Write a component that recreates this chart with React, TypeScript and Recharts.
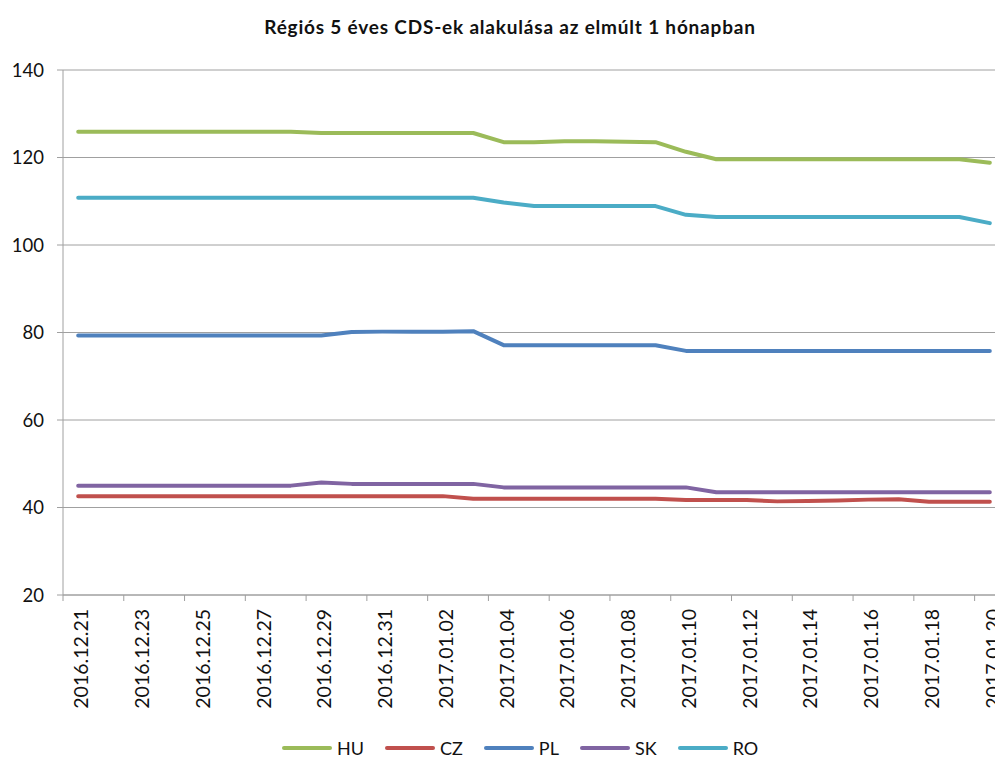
import { LineChart, Line, XAxis, YAxis, CartesianGrid } from 'recharts';

const dates = [
  '2016.12.21', '2016.12.22', '2016.12.23', '2016.12.24', '2016.12.25', '2016.12.26',
  '2016.12.27', '2016.12.28', '2016.12.29', '2016.12.30', '2016.12.31', '2017.01.01',
  '2017.01.02', '2017.01.03', '2017.01.04', '2017.01.05', '2017.01.06', '2017.01.07',
  '2017.01.08', '2017.01.09', '2017.01.10', '2017.01.11', '2017.01.12', '2017.01.13',
  '2017.01.14', '2017.01.15', '2017.01.16', '2017.01.17', '2017.01.18', '2017.01.19',
  '2017.01.20',
];

const hu = [
  125.9, 125.9, 125.9, 125.9, 125.9, 125.9, 125.9, 125.9, 125.6, 125.6, 125.6, 125.6,
  125.6, 125.6, 123.5, 123.5, 123.7, 123.7, 123.6, 123.5, 121.3, 119.6, 119.6, 119.6,
  119.6, 119.6, 119.6, 119.6, 119.6, 119.6, 118.8,
];
const cz = [
  42.6, 42.6, 42.6, 42.6, 42.6, 42.6, 42.6, 42.6, 42.6, 42.6, 42.6, 42.6,
  42.6, 42.0, 42.0, 42.0, 42.0, 42.0, 42.0, 42.0, 41.7, 41.7, 41.7, 41.4,
  41.5, 41.6, 41.8, 41.9, 41.3, 41.3, 41.3,
];
const pl = [
  79.3, 79.3, 79.3, 79.3, 79.3, 79.3, 79.3, 79.3, 79.3, 80.1, 80.2, 80.2,
  80.2, 80.3, 77.1, 77.1, 77.1, 77.1, 77.1, 77.1, 75.8, 75.8, 75.8, 75.8,
  75.8, 75.8, 75.8, 75.8, 75.8, 75.8, 75.8,
];
const sk = [
  45.0, 45.0, 45.0, 45.0, 45.0, 45.0, 45.0, 45.0, 45.7, 45.4, 45.4, 45.4,
  45.4, 45.4, 44.6, 44.6, 44.6, 44.6, 44.6, 44.6, 44.6, 43.5, 43.5, 43.5,
  43.5, 43.5, 43.5, 43.5, 43.5, 43.5, 43.5,
];
const ro = [
  110.8, 110.8, 110.8, 110.8, 110.8, 110.8, 110.8, 110.8, 110.8, 110.8, 110.8, 110.8,
  110.8, 110.8, 109.7, 108.9, 108.9, 108.9, 108.9, 108.9, 106.9, 106.4, 106.4, 106.4,
  106.4, 106.4, 106.4, 106.4, 106.4, 106.4, 105.0,
];

const yTicks = [20, 40, 60, 80, 100, 120, 140];

const series = [
  { key: 'HU', color: '#9BBB59' },
  { key: 'CZ', color: '#C0504D' },
  { key: 'PL', color: '#4F81BD' },
  { key: 'SK', color: '#8064A2' },
  { key: 'RO', color: '#4BACC6' },
];

const data = dates.map((d, i) => ({
  date: d,
  HU: hu[i],
  CZ: cz[i],
  PL: pl[i],
  SK: sk[i],
  RO: ro[i],
}));

const FONT = 'Lato, "Open Sans", sans-serif';
const W = 1015;
const H = 758;
const LEFT = 63;
const RIGHT_M = 10;
const HALF = (W - RIGHT_M - LEFT) / dates.length / 2;

const DateTick = (props: any) => {
  const { x, y, payload } = props;
  const bx = x - HALF;
  return (
    <g>
      <line x1={bx} y1={y} x2={bx} y2={y + 6} stroke="#9e9e9e" />
      <text
        transform={`translate(${x + 10},${y + 14}) rotate(-90)`}
        textAnchor="end"
        fontSize={19.5}
        fontFamily={FONT}
        fill="#111"
      >
        {payload.value}
      </text>
    </g>
  );
};

export default function App() {
  return (
    <div style={{ position: 'fixed', top: 0, left: 0, width: 995, height: 758, overflow: 'hidden', background: '#fff', fontFamily: FONT }}>
      <div style={{ position: 'absolute', top: 15, left: 0, width: 1020, textAlign: 'center', fontSize: 19, letterSpacing: 0.8, fontWeight: 700, color: '#111', zIndex: 2 }}>
        Régiós 5 éves CDS-ek alakulása az elmúlt 1 hónapban
      </div>
      <LineChart width={W} height={H} data={data} margin={{ top: 70, right: RIGHT_M, left: 0, bottom: 33 }}>
        <CartesianGrid vertical={false} stroke="#a0a0a0" />
        <XAxis
          dataKey="date"
          interval={1}
          height={130}
          padding={{ left: HALF, right: HALF }}
          tick={<DateTick />}
          tickLine={false}
          tickSize={0}
          tickMargin={0}
          axisLine={{ stroke: '#a0a0a0' }}
        />
        <YAxis
          width={LEFT}
          domain={[20, 140]}
          ticks={yTicks}
          interval={0}
          tickSize={6}
          tickMargin={13}
          tickLine={{ stroke: '#a0a0a0' }}
          axisLine={{ stroke: '#a0a0a0' }}
          tick={{ fontSize: 18.5, fill: '#111', fontFamily: FONT }}
        />
        {series.map((s) => (
          <Line
            key={s.key}
            dataKey={s.key}
            type="linear"
            stroke={s.color}
            strokeWidth={4}
            strokeLinecap="round"
            strokeLinejoin="round"
            dot={false}
            activeDot={false}
            isAnimationActive={false}
          />
        ))}
      </LineChart>
      <div style={{ position: 'absolute', top: 736, left: 282, display: 'flex', alignItems: 'center', height: 24, lineHeight: '24px', fontSize: 18, color: '#111', zIndex: 2 }}>
        {series.map((s) => (
          <div key={s.key} style={{ display: 'flex', alignItems: 'center', marginRight: 21 }}>
            <div style={{ width: 50, height: 4, borderRadius: 2, background: s.color, marginRight: 5 }} />
            <span>{s.key}</span>
          </div>
        ))}
      </div>
    </div>
  );
}
